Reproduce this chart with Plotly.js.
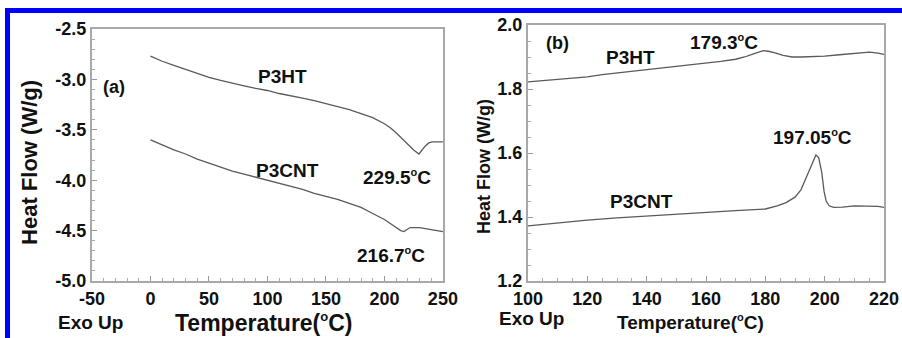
<!DOCTYPE html>
<html>
<head>
<meta charset="utf-8">
<script src="https://cdn.plot.ly/plotly-3.0.1.min.js"></script>
<style>
  html, body { margin: 0; padding: 0; background: #fff; }
  #wrap { position: relative; width: 902px; height: 338px; overflow: hidden; }
  #chart { position: absolute; left: 0; top: 0; width: 902px; height: 338px; }
  .bar { position: absolute; background: #0000ff; }
</style>
</head>
<body>
<div id="wrap">
  <div id="chart"></div>
  <div class="bar" style="left:5px; top:8px; width:897px; height:5px;"></div>
  <div class="bar" style="left:5px; top:8px; width:5px; height:330px;"></div>
</div>
<script>
// ---------- Panel (a): wide temperature range ----------
const tempA_P3HT = [0,10,20,30,40,50,60,70,80,90,100,110,120,130,140,150,160,170,180,190,200,205,210,215,220,225,229.5,232,235,238,241,245,250];
const heatA_P3HT = [-2.77,-2.82,-2.86,-2.90,-2.94,-2.98,-3.01,-3.04,-3.065,-3.09,-3.11,-3.14,-3.16,-3.185,-3.21,-3.24,-3.27,-3.30,-3.34,-3.38,-3.44,-3.48,-3.53,-3.59,-3.65,-3.70,-3.74,-3.70,-3.66,-3.63,-3.62,-3.62,-3.62];

const tempA_P3CNT = [0,10,20,30,40,50,60,70,80,90,100,110,120,130,140,150,160,170,180,190,200,205,210,214,216.7,219,222,226,230,235,240,245,250];
const heatA_P3CNT = [-3.60,-3.65,-3.70,-3.74,-3.79,-3.83,-3.87,-3.91,-3.94,-3.97,-4.00,-4.03,-4.06,-4.09,-4.13,-4.16,-4.19,-4.23,-4.27,-4.33,-4.39,-4.43,-4.47,-4.50,-4.51,-4.49,-4.47,-4.47,-4.47,-4.48,-4.49,-4.50,-4.51];

// ---------- Panel (b): 100-220 C ----------
const tempB_P3HT = [100,105,110,115,120,125,130,135,140,145,150,155,160,165,170,173,176,179.3,181,183,186,189,192,196,200,205,210,215,218,220];
const heatB_P3HT = [1.822,1.826,1.830,1.834,1.838,1.845,1.850,1.856,1.862,1.866,1.870,1.875,1.880,1.886,1.893,1.900,1.910,1.920,1.918,1.914,1.905,1.900,1.900,1.901,1.903,1.907,1.911,1.915,1.912,1.908];

const tempB_P3CNT = [100,105,110,115,120,130,140,150,160,170,180,184,187,190,192,194,195.5,197.05,198,199,199.8,200.5,201.5,203,206,210,215,218,220];
const heatB_P3CNT = [1.372,1.377,1.382,1.386,1.390,1.397,1.403,1.410,1.416,1.420,1.425,1.435,1.445,1.462,1.485,1.525,1.560,1.594,1.585,1.540,1.480,1.450,1.435,1.430,1.431,1.435,1.435,1.433,1.430];

// tick labels
const ticksA_x = [-50,0,50,100,150,200,250];
const ticksA_y = [-5.0,-4.5,-4.0,-3.5,-3.0,-2.5];
const ticksB_x = [100,120,140,160,180,200,220];
const ticksB_y = [1.2,1.4,1.6,1.8,2.0];

const FONT = '"Liberation Sans", Arial, sans-serif';
const lineStyle = {color: '#5a5a5a', width: 1.3};

const traces = [
  {x: tempA_P3HT, y: heatA_P3HT, mode: 'lines', line: lineStyle, xaxis: 'x', yaxis: 'y', name: 'P3HT (a)'},
  {x: tempA_P3CNT, y: heatA_P3CNT, mode: 'lines', line: lineStyle, xaxis: 'x', yaxis: 'y', name: 'P3CNT (a)'},
  {x: tempB_P3HT, y: heatB_P3HT, mode: 'lines', line: lineStyle, xaxis: 'x2', yaxis: 'y2', name: 'P3HT (b)'},
  {x: tempB_P3CNT, y: heatB_P3CNT, mode: 'lines', line: lineStyle, xaxis: 'x2', yaxis: 'y2', name: 'P3CNT (b)'}
];

function axis(extra) {
  return Object.assign({
    showgrid: false, zeroline: false,
    showline: true, mirror: true, linecolor: '#a8a8a8', linewidth: 2,
    ticks: 'inside', ticklen: 5, tickcolor: '#999999', tickwidth: 1,
    tickfont: {family: FONT, size: 18, color: '#111', weight: 'bold'},
    fixedrange: true
  }, extra);
}

const tf = (size) => ({family: FONT, size: size, color: '#111', weight: 'bold'});
function note(x, y, text, size, ref, extra) {
  return Object.assign({xref: ref[0], yref: ref[1], x: x, y: y, text: text, showarrow: false,
    xanchor: 'center', yanchor: 'middle', font: tf(size)}, extra || {});
}
const deg = (px) => '<sup><span style="font-size:' + px + 'px">o</span></sup>';
const A = ['x', 'y'], B = ['x2', 'y2'], P = ['paper', 'paper'];

const annotations = [
  // panel (a)
  note(-30.8, -3.075, '(a)', 18, A),
  note(113, -2.976, 'P3HT', 19, A),
  note(117, -3.90, 'P3CNT', 19, A),
  note(210.6, -3.968, '229.5' + deg(11) + 'C', 19, A),
  note(206, -4.742, '216.7' + deg(11) + 'C', 19, A),
  note(0.0333, 0.518, 'Heat Flow (W/g)', 22, P, {textangle: -90}),
  note(0.2927, 0.0444, 'Temperature(' + deg(13) + 'C)', 23, P),
  note(0.0998, 0.0444, 'Exo Up', 19, P),
  // panel (b)
  note(110.1, 1.944, '(b)', 18, B),
  note(134.7, 1.90, 'P3HT', 19, B),
  note(166, 1.947, '179.3' + deg(11) + 'C', 19, B),
  note(196, 1.65, '197.05' + deg(11) + 'C', 19, B),
  note(138.4, 1.447, 'P3CNT', 19, B),
  note(0.5366, 0.506, 'Heat Flow (W/g)', 18, P, {textangle: -90}),
  note(0.766, 0.047, 'Temperature(' + deg(11) + 'C)', 19, P),
  note(0.5887, 0.059, 'Exo Up', 19, P)
];

const layout = {
  width: 902, height: 338,
  margin: {l: 0, r: 0, t: 0, b: 0},
  paper_bgcolor: '#ffffff', plot_bgcolor: '#ffffff',
  showlegend: false,
  xaxis: axis({domain: [0.102, 0.491], range: [-50, 250], tickvals: ticksA_x, ticktext: ticksA_x.map(String),
    minor: {ticks: 'inside', dtick: 10, tick0: 0, ticklen: 3, tickcolor: '#aaaaaa'}, anchor: 'y'}),
  yaxis: axis({domain: [1 - 281/338, 1 - 29/338], range: [-5.0, -2.5], tickvals: ticksA_y, ticktext: ticksA_y.map(v => v.toFixed(1)),
    minor: {ticks: 'inside', dtick: 0.1, tick0: 0, ticklen: 3, tickcolor: '#aaaaaa'}, anchor: 'x'}),
  xaxis2: axis({domain: [528/902, 884/902], range: [100, 220], tickvals: ticksB_x, ticktext: ticksB_x.map(String),
    minor: {ticks: 'inside', dtick: 5, tick0: 0, ticklen: 3, tickcolor: '#aaaaaa'}, anchor: 'y2'}),
  yaxis2: axis({domain: [1 - 281/338, 1 - 25/338], range: [1.2, 2.0], tickvals: ticksB_y, ticktext: ticksB_y.map(v => v.toFixed(1)),
    minor: {ticks: 'inside', dtick: 0.05, tick0: 0, ticklen: 3, tickcolor: '#aaaaaa'}, anchor: 'x2'}),
  annotations: annotations
};

Plotly.newPlot('chart', traces, layout, {displayModeBar: false, staticPlot: true});
</script>
</body>
</html>
